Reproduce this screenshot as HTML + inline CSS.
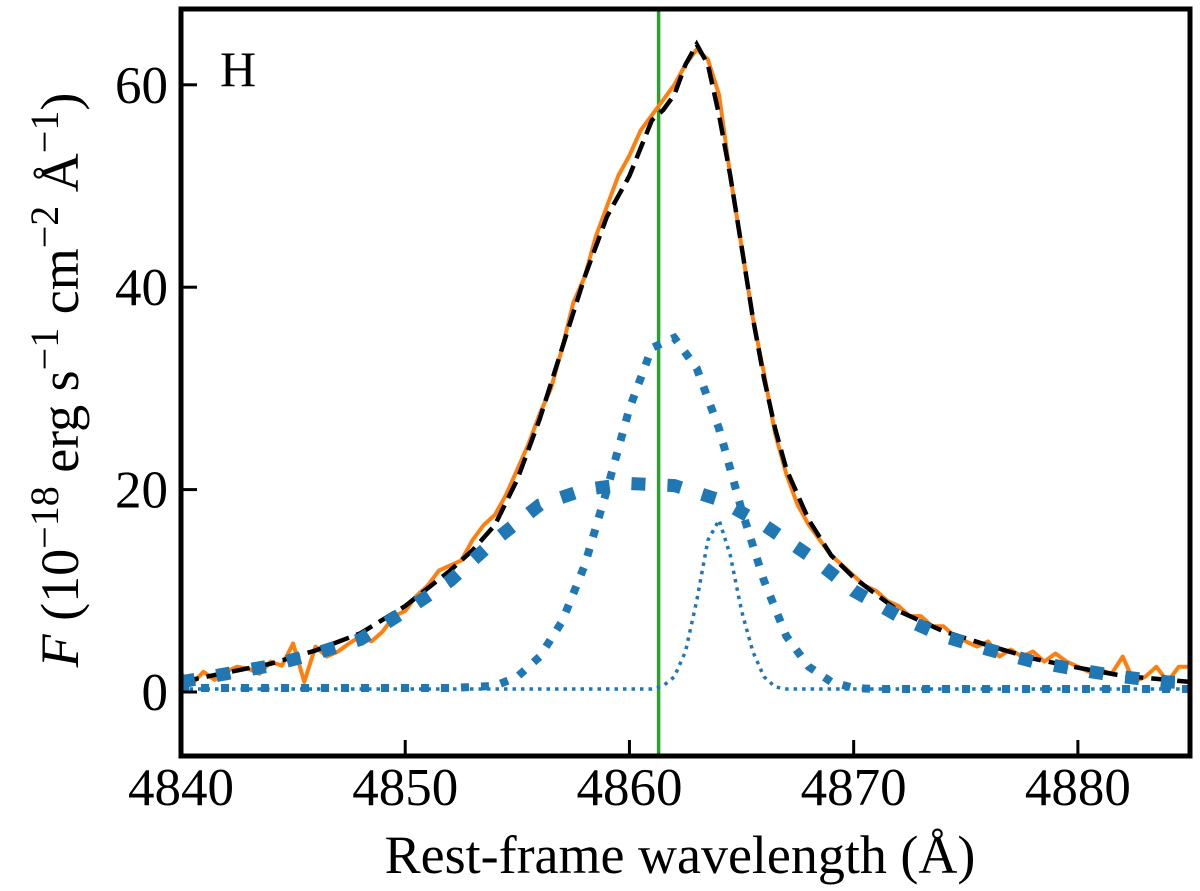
<!DOCTYPE html>
<html><head><meta charset="utf-8"><style>
html,body{margin:0;padding:0;background:#fff;}
svg{display:block;font-family:"Liberation Serif",serif;}
</style></head><body>
<svg id="chart" width="1200" height="891" viewBox="0 0 1200 891" xmlns="http://www.w3.org/2000/svg">
<g id="plot"></g>
<g id="axes"></g>
<text x="220" y="86" font-size="50">H</text>
<text x="680" y="873" font-size="54" text-anchor="middle">Rest-frame wavelength (Å)</text>
<text transform="translate(78,380) rotate(-90)" font-size="54" text-anchor="middle"><tspan font-style="italic">F</tspan>   (10<tspan dy="-20" font-size="40">−18</tspan><tspan dy="20"> erg s</tspan><tspan dy="-20" font-size="40">−1</tspan><tspan dy="20"> cm</tspan><tspan dy="-20" font-size="40">−2</tspan><tspan dy="20"> Å</tspan><tspan dy="-20" font-size="40">−1</tspan><tspan dy="20">)</tspan></text>
</svg>
<script>
const xTicks=[4840,4850,4860,4870,4880];
const yTicks=[0,20,40,60];
const obsStart=4840, obsStep=0.5;
const observed=[1.8,0.8,2.0,1.2,2.0,2.5,2.3,1.8,3.0,2.6,4.8,1.0,4.5,3.5,4.0,4.8,5.5,5.0,6.0,7.5,8.0,9.5,10.5,12.0,12.5,13.0,15.0,16.5,17.5,19.5,22,24.5,27.5,30,34,38.5,41,45,48,51,53,55.5,57,58.5,60,62,63.5,62.5,59,51,44,37,31.5,25.5,21.5,18.5,16.5,15,13.5,12.5,11.5,10.5,10,9,8.5,7.5,7.5,6.5,6.5,5.5,5,4.5,5,3.5,4.2,3.5,4.0,3.0,3.8,3.0,2.5,2.0,2.2,1.8,3.5,1.0,1.5,2.5,1.0,2.5,2.5];
const totalX=[4840,4842,4844,4846,4848,4850,4852,4853,4854,4855,4856,4857,4858,4859,4860,4861,4861.5,4862,4862.5,4863,4863.5,4864,4864.5,4865,4865.5,4866,4866.5,4867,4868,4869,4870,4872,4874,4876,4878,4880,4882,4884,4885];
const totalY=[1,1.9,2.8,4.1,5.8,8.5,12,14,16.5,21,27,34,41,47,51,56.5,57.5,59,62,64,62,57,51,44,37,31,26,22,17,13.5,11.3,8,6,4.6,3.3,2.4,1.6,1.2,1.0];
const broadX=[4840,4842,4844,4846,4848,4850,4852,4854,4856,4858,4860,4862,4864,4866,4868,4870,4872,4874,4876,4878,4880,4882,4884,4885];
const broadY=[1.0,1.8,2.6,3.8,5.2,8,11,15,18.5,20,20.6,20.4,19,16.5,13.5,10,7.5,5.5,4.2,3,2.2,1.5,1,0.9];
const medX=[4840,4852,4854,4855,4856,4857,4858,4859,4860,4861,4862,4863,4864,4865,4866,4867,4868,4869,4870,4871,4885];
const medY=[0.4,0.4,0.6,1.5,3.5,7,12.5,20,28,34,35,32,26,18,11,5.5,2.5,1,0.4,0.3,0.3];
const narX=[4840,4861,4861.5,4862,4862.5,4863,4863.5,4864,4864.5,4865,4865.5,4866,4866.5,4867,4885];
const narY=[0.3,0.3,0.6,1.5,4,9,15,17,13.5,8,4,1.5,0.5,0.3,0.3];
const restLine=4861.3;

const L=181,R=1190,T=9,B=756;
const sx=v=>L+(v-4840)*(1009/45);
const sy=v=>692-v*10.12;
const NS="http://www.w3.org/2000/svg";
const plot=document.getElementById('plot'), axes=document.getElementById('axes');
function mk(tag,attrs,parent){const e=document.createElementNS(NS,tag);for(const k in attrs)e.setAttribute(k,attrs[k]);parent.appendChild(e);return e;}
function pts(xs,ys){return xs.map((x,i)=>sx(x).toFixed(1)+','+sy(ys[i]).toFixed(1)).join(' ');}
mk('clipPath',{id:'clip'},plot);
mk('rect',{x:L,y:T,width:R-L,height:B-T},document.getElementById('clip'));
const g=mk('g',{'clip-path':'url(#clip)'},plot);

let e;
e=mk('line',{x1:sx(restLine),x2:sx(restLine),y1:T,y2:B,stroke:'#2ca02c','stroke-width':3.5},g);


const obsX=observed.map((v,i)=>obsStart+i*obsStep);
e=mk('polyline',{points:pts(obsX,observed),fill:'none',stroke:'#ff7f0e','stroke-width':4,'stroke-linejoin':'round'},g);


e=mk('polyline',{points:pts(totalX,totalY),fill:'none',stroke:'#000','stroke-width':4.5,'stroke-dasharray':'18 8'},g);


e=mk('polyline',{points:pts(broadX,broadY),fill:'none',stroke:'#1f77b4','stroke-width':13,'stroke-dasharray':'14 22'},g);


e=mk('polyline',{points:pts(medX,medY),fill:'none',stroke:'#1f77b4','stroke-width':8,'stroke-dasharray':'8 12'},g);


e=mk('polyline',{points:pts(narX,narY),fill:'none',stroke:'#1f77b4','stroke-width':3.5,'stroke-dasharray':'3.5 5'},g);



e=mk('rect',{x:L,y:T,width:R-L,height:B-T,fill:'none',stroke:'#000','stroke-width':5},axes);


xTicks.forEach(v=>{
  e=mk('line',{x1:sx(v),x2:sx(v),y1:B,y2:B-16,stroke:'#000','stroke-width':3},axes);
  
  
  e=mk('text',{x:sx(v),y:805,'font-size':53,'text-anchor':'middle'},axes);
  e.textContent=v;
  
  
});
yTicks.forEach(v=>{
  e=mk('line',{x1:L,x2:L+16,y1:sy(v),y2:sy(v),stroke:'#000','stroke-width':3},axes);
  
  
  e=mk('text',{x:168,y:sy(v)+18,'font-size':53,'text-anchor':'end'},axes);
  e.textContent=v;
  
  
});
</script>
</body></html>
